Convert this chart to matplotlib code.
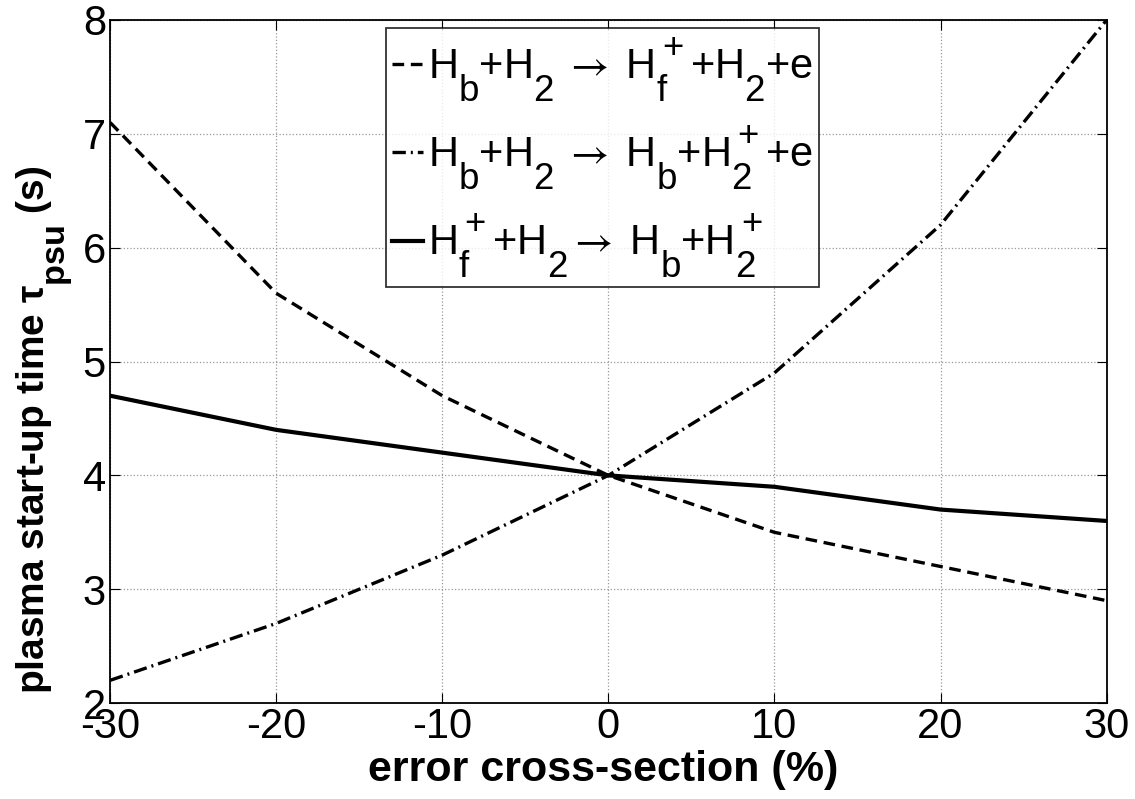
import matplotlib
matplotlib.use('Agg')
import matplotlib.pyplot as plt
import matplotlib._mathtext as mt

plt.rcParams['font.family'] = ['Liberation Sans', 'DejaVu Sans']
plt.rcParams['mathtext.fontset'] = 'custom'
plt.rcParams['mathtext.rm'] = 'Liberation Sans'
plt.rcParams['mathtext.it'] = 'Liberation Sans'
plt.rcParams['mathtext.bf'] = 'Liberation Sans:bold'
plt.rcParams['mathtext.sf'] = 'STIXGeneral'   # only used for the thin arrow
plt.rcParams['axes.unicode_minus'] = False

# big, low subscripts like the original (tex-style legend)
mt.SHRINK_FACTOR = 0.88
mt.FontConstantsBase.sub1 = 1.0
mt.FontConstantsBase.sub2 = 1.0
mt.FontConstantsBase.sup1 = 0.9
mt.FontConstantsBase.script_space = 0.0

# data
err = [-30, -20, -10, 0, 10, 20, 30]
t_ion_fast = [7.1, 5.6, 4.7, 4.0, 3.5, 3.2, 2.9]      # Hb+H2 -> Hf+ + H2 + e
t_ion_h2 = [2.2, 2.7, 3.3, 4.0, 4.9, 6.2, 8.0]        # Hb+H2 -> Hb + H2+ + e
t_cx = [4.7, 4.4, 4.2, 4.0, 3.9, 3.7, 3.6]            # Hf+ + H2 -> Hb + H2+

labels = [r'$\mathregular{H_b{+}H_2\;\mathsf{\rightarrow}\;H_f^+{+}H_2{+}e}$',
          r'$\mathregular{H_b{+}H_2\;\mathsf{\rightarrow}\;H_b{+}H_2^+{+}e}$',
          r'$\mathregular{H_f^+{+}H_2\mathsf{\rightarrow}\;H_b{+}H_2^+}$']

fig = plt.figure(figsize=(11.35, 7.99), dpi=100)
ax = fig.add_axes([0.097, 0.120, 0.878, 0.855])

ax.plot(err, t_ion_fast, color='k', lw=2.4, dashes=(3.5, 2), label=labels[0])
ax.plot(err, t_ion_h2, color='k', lw=2.4, dashes=(4, 1.5, 0.6, 1.5), label=labels[1])
ax.plot(err, t_cx, color='k', lw=3, ls='-', label=labels[2])

ax.set_xlim(-30, 30)
ax.set_ylim(2, 8)
ax.set_xticks(range(-30, 31, 10))
ax.set_yticks(range(2, 9))
ax.grid(True, ls=':', color='#999999', lw=0.9)
ax.tick_params(direction='in', labelsize=30, length=7, top=True, right=True, pad=3)
for s in ax.spines.values():
    s.set_linewidth(1.3)

ax.set_xlabel('error cross-section (%)', fontsize=31, fontweight='bold')
ax.xaxis.set_label_coords(0.495, -0.068)
ax.set_ylabel(r'plasma start-up time $\mathregular{\tau_{psu}}$ (s)', fontsize=28,
              fontweight='bold')
ax.yaxis.set_label_coords(-0.036, 0.40)

leg = ax.legend(loc='upper center', bbox_to_anchor=(0.494, 0.995), fontsize=30,
                handlelength=0.75, handletextpad=0.1, borderpad=0.15, labelspacing=0.45,
                frameon=True, fancybox=False, edgecolor='k', borderaxespad=0.1)
leg.get_frame().set_linewidth(1.3)

fig.savefig('out.png', dpi=100)
